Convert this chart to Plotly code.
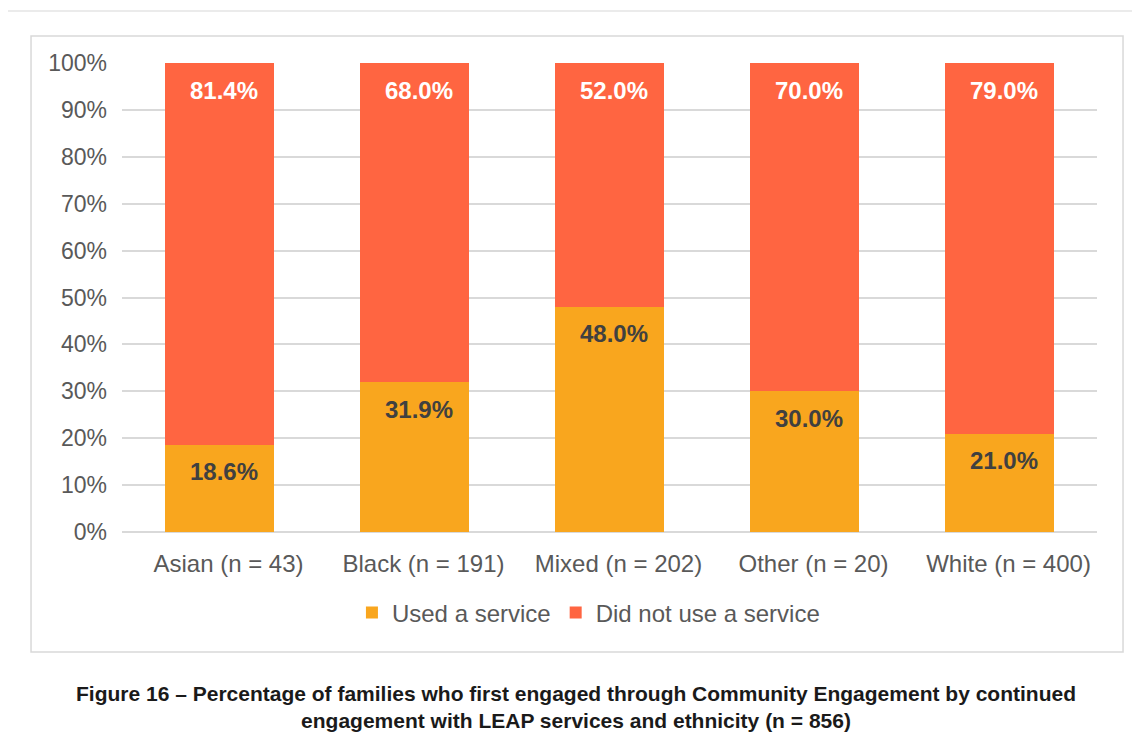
import plotly.graph_objects as go

categories = ["Asian (n = 43)", "Black (n = 191)", "Mixed (n = 202)", "Other (n = 20)", "White (n = 400)"]
used = [18.6, 31.9, 48.0, 30.0, 21.0]
not_used = [81.4, 68.0, 52.0, 70.0, 79.0]
y_ticks = [0, 10, 20, 30, 40, 50, 60, 70, 80, 90, 100]
y_tick_labels = [f"{v}%" for v in y_ticks]

C_USED = "#F9A61E"
C_NOT = "#FF6541"
FONT = "Liberation Sans, Arial, sans-serif"

fig = go.Figure()
fig.add_trace(go.Bar(x=categories, y=used, name="Used a service", marker=dict(color=C_USED, line=dict(width=0))))
fig.add_trace(go.Bar(x=categories, y=not_used, name="Did not use a service", marker=dict(color=C_NOT, line=dict(width=0))))

annotations = []
for c, u, n in zip(categories, used, not_used):
    annotations.append(dict(x=c, y=u, xref="x", yref="y", text=f"<b>{u:.1f}%</b>", showarrow=False,
                            xshift=4, yshift=-27, yanchor="middle",
                            font=dict(family=FONT, size=24, color="#404040")))
    annotations.append(dict(x=c, y=u + n, xref="x", yref="y", text=f"<b>{n:.1f}%</b>", showarrow=False,
                            xshift=4, yshift=-27, yanchor="middle",
                            font=dict(family=FONT, size=24, color="#FFFFFF")))

annotations.append(dict(
    x=0.4656, y=-0.373, xref="paper", yref="paper", xanchor="center", yanchor="middle",
    text="<b>Figure 16 – Percentage of families who first engaged through Community Engagement by continued<br>engagement with LEAP services and ethnicity (n = 856)</b>",
    showarrow=False, align="center", font=dict(family=FONT, size=21, color="#1a1a1a")))

shapes = [
    # outer page frame
    dict(type="rect", xref="paper", yref="paper", x0=-0.121, x1=1.08, y0=-0.55, y1=1.1109,
         line=dict(color="#EBEBEB", width=2), fillcolor="rgba(0,0,0,0)", layer="below"),
    # chart border
    dict(type="rect", xref="paper", yref="paper", x0=-0.0933, x1=1.0267, y0=-0.2559, y1=1.0576,
         line=dict(color="#D9D9D9", width=1.5), fillcolor="rgba(0,0,0,0)", layer="below"),
]

fig.update_layout(
    width=1140, height=752,
    margin=dict(l=114, r=51, t=55, b=228),
    barmode="stack", bargap=0.446,
    plot_bgcolor="white", paper_bgcolor="white",
    font=dict(family=FONT, color="#595959", size=23),
    showlegend=True,
    legend=dict(orientation="h", x=0.4784, xanchor="center", y=-0.1727, yanchor="middle",
                traceorder="normal",
                font=dict(family=FONT, size=24, color="#595959"), itemwidth=30, tracegroupgap=0,
                bgcolor="rgba(0,0,0,0)"),
    annotations=annotations,
    shapes=shapes,
    xaxis=dict(showgrid=False, showline=False, ticks="", ticklabelstandoff=15, ticklabelshift=9,
               tickfont=dict(family=FONT, size=24, color="#595959")),
    yaxis=dict(range=[0, 100], tickmode="array", tickvals=y_ticks, ticktext=y_tick_labels,
               showgrid=True, gridcolor="#D9D9D9",
               gridwidth=1.5, zeroline=True, zerolinecolor="#D9D9D9", zerolinewidth=1.5,
               showline=False, ticks="", ticklabelstandoff=14,
               tickfont=dict(family=FONT, size=23, color="#595959")),
)

fig.write_html("out.html")
